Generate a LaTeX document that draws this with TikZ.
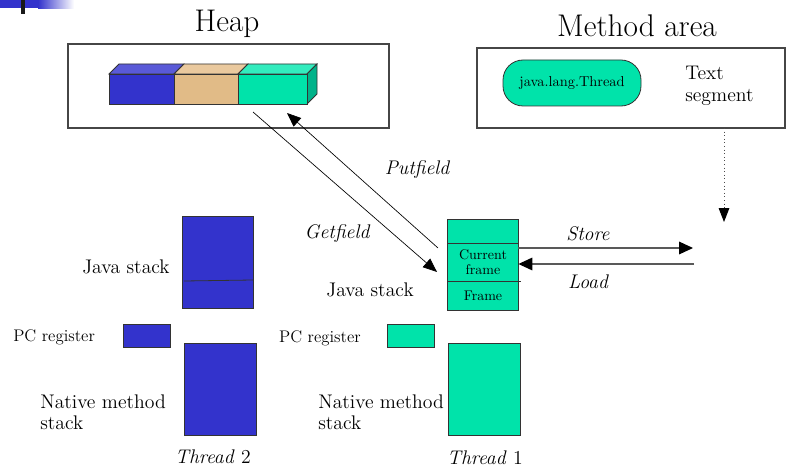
\documentclass[tikz,border=0pt]{standalone}
\usepackage{fontspec}
\usetikzlibrary{arrows.meta}
\definecolor{tblue}{RGB}{51,51,204}
\definecolor{tbluetop}{RGB}{90,90,216}
\definecolor{ttan}{RGB}{225,187,135}
\definecolor{ttantop}{RGB}{234,201,158}
\definecolor{tgreen}{RGB}{0,227,170}
\definecolor{tgreentop}{RGB}{51,236,190}
\definecolor{tgreenside}{RGB}{0,179,138}
\definecolor{edgegray}{RGB}{70,70,70}
\begin{document}
\begin{tikzpicture}[x=0.75pt,y=-0.75pt,
  title/.style={font=\fontsize{23.5}{26}\selectfont},
  lbl/.style={font=\fontsize{14.8}{15.75}\selectfont},
  lblit/.style={font=\fontsize{14.8}{15.75}\selectfont\itshape},
  small/.style={font=\fontsize{12.6}{14}\selectfont},
  tiny/.style={font=\fontsize{10.5}{10.8}\selectfont},
  area/.style={draw=edgegray,line width=0.9pt},
  blk/.style={draw=black!80,line width=0.6pt},
  bluebox/.style={blk,fill=tblue,inner sep=0pt},
  greenbox/.style={blk,fill=tgreen,inner sep=0pt},
  bigtip/.style={-{Triangle[length=10.5pt,width=8.5pt]}},
  flow/.style={draw=black,line width=0.5pt},
  graytip/.style={draw=black!65,line width=0.9pt,-{Triangle[length=10.5pt,width=9.5pt,fill=black,color=black]}}
]
\useasboundingbox (0,0) rectangle (787,470);

% corner decoration
\fill[tblue] (0,0) rectangle (38,8.5);
\shade[left color=tblue,right color=white] (38,0) rectangle (74,8.5);
\fill[black!90] (21,0) rectangle (25,14);

% heap
\node[title] (heaptitle) at (227,24) {Heap};
\node[area,minimum width=321pt*0.75,minimum height=84pt*0.75,inner sep=0pt] (heap) at (228.5,86) {};
% object blocks (front, top and side faces)
\filldraw[blk,fill=tbluetop] (109,74) -- (119,64) -- (184,64) -- (174,74) -- cycle;
\filldraw[blk,fill=ttantop] (174,74) -- (184,64) -- (248,64) -- (238,74) -- cycle;
\filldraw[blk,fill=tgreentop] (238,74) -- (248,64) -- (317,64) -- (307,74) -- cycle;
\filldraw[blk,fill=tgreenside] (307,74) -- (317,64) -- (317,94) -- (307,104) -- cycle;
\node[bluebox,minimum width=65pt*0.75,minimum height=30pt*0.75] (objA) at (141.5,89) {};
\node[blk,fill=ttan,inner sep=0pt,minimum width=64pt*0.75,minimum height=30pt*0.75] (objB) at (206,89) {};
\node[greenbox,minimum width=69pt*0.75,minimum height=30pt*0.75] (objC) at (272.5,89) {};

% method area
\node[title] (mtitle) at (637,26) {Method area};
\node[area,minimum width=308pt*0.75,minimum height=80pt*0.75,inner sep=0pt] (method) at (631,88) {};
\node[greenbox,rounded corners=15pt,minimum width=138pt*0.75,minimum height=46pt*0.75,font=\fontsize{10.8}{12}\selectfont] (jlt) at (572,83) {java.lang.Thread};
\node[lbl,align=left,anchor=west,inner sep=0pt] (textseg) at (685,86) {Text\\[0.8pt]segment};
\coordinate (segtop) at (724,128);
\coordinate (segtip) at (724,222);
\draw[black!70,dotted,line width=0.7pt,-{Triangle[length=10.5pt,width=8pt,fill=black,color=black]}] (segtop) -- (segtip);

% thread 1: java stack
\node[greenbox,minimum width=71pt*0.75,minimum height=91pt*0.75] (js1) at (482.5,264.5) {};
\draw[blk] (447,243) -- (518,243);
\draw[blk] (447,281) -- (521,281);
\node[tiny,align=center,inner sep=0pt] (curframe) at (483,262) {Current\\frame};
\node[tiny,inner sep=0pt] (frame1) at (483,296) {Frame};
\node[lbl] (js1lbl) at (370,290) {Java stack};

% thread 1: pc register and native stack
\node[small,anchor=east,inner sep=0pt] (pc1lbl) at (361,338) {PC register};
\node[greenbox,minimum width=47pt*0.75,minimum height=23pt*0.75] (pc1) at (410.5,335.5) {};
\node[greenbox,minimum width=72pt*0.75,minimum height=92pt*0.75] (nm1) at (484,389) {};
\node[lbl,align=left,anchor=west,inner sep=0pt] (nm1lbl) at (318,412) {Native method\\stack};
\node[lbl] (t1) at (485,458) {\textit{Thread} 1};

% thread 2
\node[bluebox,minimum width=71pt*0.75,minimum height=92pt*0.75] (js2) at (217.5,262) {};
\draw[blk] (184,281) -- (253,280);
\node[lbl] (js2lbl) at (126,267) {Java stack};
\node[small,anchor=west,inner sep=0pt] (pc2lbl) at (13,337) {PC register};
\node[bluebox,minimum width=47pt*0.75,minimum height=23pt*0.75] (pc2) at (146.5,335.5) {};
\node[bluebox,minimum width=72pt*0.75,minimum height=92pt*0.75] (nm2) at (220,389) {};
\node[lbl,align=left,anchor=west,inner sep=0pt] (nm2lbl) at (40,412) {Native method\\stack};
\node[lbl] (t2) at (213,457) {\textit{Thread} 2};

% getfield / putfield between heap and current frame
\coordinate (getfrom) at (253,112);
\coordinate (getto) at (437,272);
\coordinate (putfrom) at (438,248);
\coordinate (putto) at (287,113);
\draw[flow,bigtip] (getfrom) -- (getto);
\draw[flow,bigtip] (putfrom) -- (putto);
\node[lblit] (putlbl) at (417,170) {Putfield};
\node[lblit] (getlbl) at (337,234) {Getfield};

% store / load between current frame and text segment
\coordinate (storeto) at (693,248);
\coordinate (loadfrom) at (694,264);
\draw[graytip] (js1.east |- storeto) -- (storeto);
\draw[graytip] (loadfrom) -- (js1.east |- loadfrom);
\node[lblit] (storelbl) at (588,234) {Store};
\node[lblit] (loadlbl) at (588,282) {Load};
\end{tikzpicture}
\end{document}
